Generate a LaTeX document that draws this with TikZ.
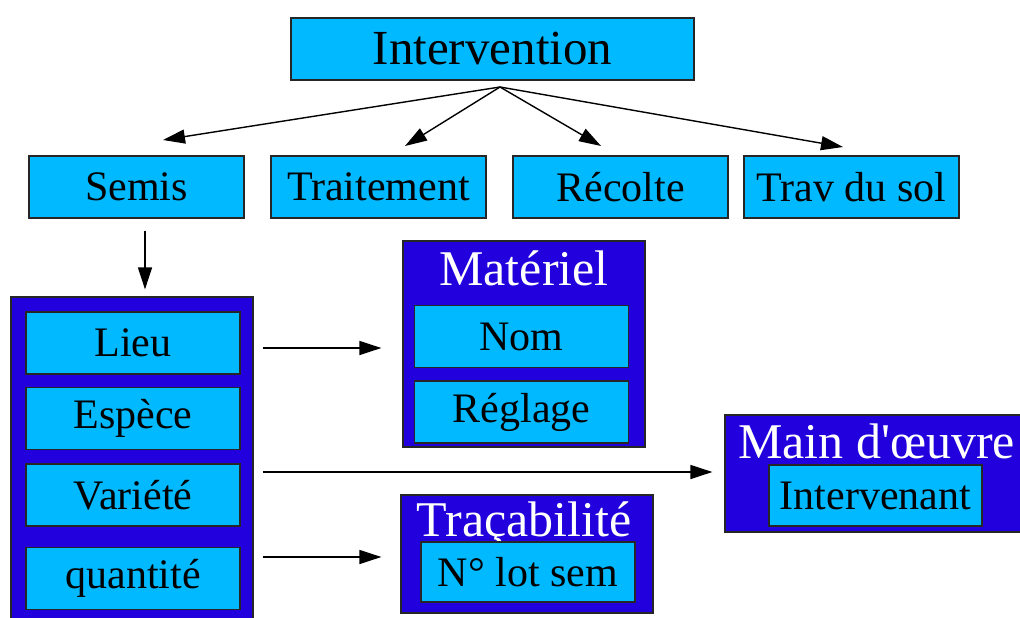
\documentclass[tikz,border=0pt]{standalone}
\usepackage{fontspec}
\setmainfont{Liberation Serif}[Ligatures=TeXOff]
\usetikzlibrary{arrows.meta}
\definecolor{lightbox}{RGB}{0,185,255}
\definecolor{darkbox}{RGB}{34,0,221}
\begin{document}
\begin{tikzpicture}[x=1pt,y=-1pt,
  item/.style={draw=black!85, line width=1.2pt, fill=lightbox, minimum width=214pt, minimum height=62pt, inner sep=0pt, font=\fontsize{42}{50}\selectfont},
  group/.style={draw=black!85, line width=1.2pt, fill=darkbox, inner sep=0pt},
  grouptitle/.style={text=white, font=\fontsize{50}{60}\selectfont, anchor=base, inner sep=0pt},
  arr/.style={line width=1.4pt, -{Triangle[length=22pt,width=14pt]}}]
\useasboundingbox (0,0) rectangle (1020,618);
\clip (0,0) rectangle (1020,618);
\fill[white] (0,0) rectangle (1020,618);
% top level
\node[item, minimum width=403pt, font=\fontsize{49}{58}\selectfont] (interv) at (492.5,49) {Intervention};
\node[item, minimum width=215pt] (semis) at (136.5,187) {Semis};
\node[item, minimum width=215pt] (trait) at (378.5,187) {Traitement};
\node[item, minimum width=215pt] (recol) at (620.5,187) {Récolte};
\node[item, minimum width=215pt] (trav) at (851.5,187) {Trav du sol};
\coordinate (hub) at (500,87);
\coordinate (e1) at (163,140);
\coordinate (e2) at (405,146);
\coordinate (e3) at (601,146);
\coordinate (e4) at (843,147);
\draw[arr] (hub) -- (e1);
\draw[arr] (hub) -- (e2);
\draw[arr] (hub) -- (e3);
\draw[arr] (hub) -- (e4);
% semis group
\node[group, minimum width=242pt, minimum height=346pt] (sbox) at (132,470) {};
\node[item] (lieu) at (133,343) {Lieu};
\node[item] (espece) at (133,418.5) {Espèce};
\node[item] (variete) at (133,495) {Variété};
\node[item] (quant) at (133,578.5) {quantité};
\draw[arr, shorten <=12pt, shorten >=7pt] ([xshift=8.5pt]semis.south) -- ([xshift=8.5pt]semis.south |- sbox.north);
% materiel
\node[group, minimum width=242pt, minimum height=206pt] (mat) at (524,344) {};
\node[grouptitle] (mattitle) at (524,285) {Matériel};
\node[item] (nom) at (521.5,336.5) {Nom};
\node[item] (reglage) at (521.5,412) {Réglage};
% main d'oeuvre
\node[group, minimum width=320pt, minimum height=117pt] (main) at (885,473.5) {};
\node[grouptitle] (maintitle) at (876.5,458) {Main d'œuvre};
\node[item, minimum width=213pt, minimum height=61pt] (interven) at (875.5,495.5) {Intervenant};
% tracabilite
\node[group, minimum width=252pt, minimum height=118pt] (trac) at (527,554) {};
\node[grouptitle] (tractitle) at (524,536) {Traçabilité};
\node[item, minimum height=60pt] (lot) at (528,572) {N° lot sem};
% connectors
\draw[arr, shorten <=9pt, shorten >=21pt] ([yshift=-4pt]sbox.east |- mat.west) -- ([yshift=-4pt]mat.west);
\draw[arr, shorten <=9pt, shorten >=12pt] ([yshift=1.5pt]sbox.east |- main.west) -- ([yshift=1.5pt]main.west);
\draw[arr, shorten <=9pt, shorten >=19pt] ([yshift=-3pt]sbox.east |- trac.west) -- ([yshift=-3pt]trac.west);
\end{tikzpicture}
\end{document}
